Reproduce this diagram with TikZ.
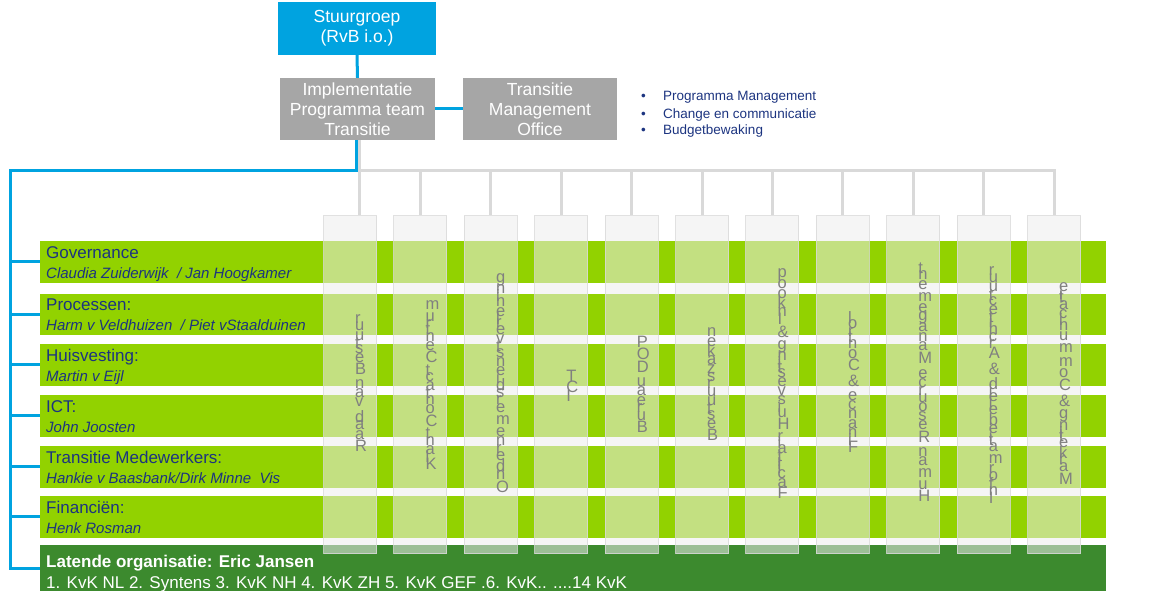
\documentclass[tikz,border=0pt]{standalone}
\usepackage{fontspec}
\setmainfont{Liberation Sans}
\usetikzlibrary{positioning,calc}

\definecolor{sgblue}{RGB}{0,163,224}
\definecolor{boxgrey}{RGB}{166,166,166}
\definecolor{lijngrey}{RGB}{217,217,217}
\definecolor{rijgroen}{RGB}{146,210,0}
\definecolor{latgroen}{RGB}{60,138,46}
\definecolor{navy}{RGB}{28,52,128}
\definecolor{stapelgrey}{RGB}{128,128,128}
\definecolor{colfill}{RGB}{236,236,236}

% one letter, upright, in a slot as tall as the letter is wide
\newcommand\pilechar[1]{%
  \setbox0=\hbox{\fontsize{17}{17}\selectfont #1}%
  \vbox to \wd0{\vss\hbox{\fontsize{16.5}{16.5}\selectfont #1}\vss}}
% letters piled up from the bottom
\ExplSyntaxOn
\tl_new:N \l_pile_tl
\str_new:N \l_pile_str
\NewDocumentCommand\pile{m}
  {
    \tl_clear:N \l_pile_tl
    \str_set:Nx \l_pile_str {#1}
    \str_map_inline:Nn \l_pile_str
      {
        \tl_if_blank:nTF {##1}
          { \tl_put_left:Nn \l_pile_tl { \vbox to 4.7pt {} } }
          { \tl_put_left:Nn \l_pile_tl { \pilechar{##1} } }
      }
    \vbox{ \offinterlineskip \l_pile_tl }
  }
\ExplSyntaxOff

\tikzset{
  sgbox/.style={fill=sgblue,text=white,inner sep=0pt,minimum width=158pt,
    minimum height=53pt,align=center,font=\fontsize{17.5}{20}\selectfont},
  greybox/.style={fill=boxgrey,text=white,inner sep=0pt,minimum width=155pt,
    minimum height=62pt,align=center,font=\fontsize{17.5}{20}\selectfont},
  rowbar/.style={anchor=north west,inner sep=0pt,minimum width=1066pt,minimum height=41.5pt},
  rowtitle/.style={anchor=base west,inner sep=0pt,font=\fontsize{17}{20}\selectfont},
  rowname/.style={anchor=base west,inner sep=0pt,font=\fontsize{15}{18}\selectfont\itshape},
  colbox/.style={anchor=north west,inner sep=0pt,minimum width=53pt,minimum height=338pt,
    fill=colfill,fill opacity=0.55,draw=lijngrey,draw opacity=0.8,line width=1pt},
  coltext/.style={anchor=west,inner sep=0pt,text=stapelgrey},
  taskitem/.style={anchor=base west,inner sep=0pt,text=navy,font=\fontsize{13.5}{17}\selectfont},
  blueline/.style={draw=sgblue,line width=3pt},
  greyline/.style={draw=lijngrey,line width=3pt}
}

\begin{document}
\begin{tikzpicture}[x=1pt,y=-1pt]
\useasboundingbox (0,0) rectangle (1161,591);

% top of the tree
\node[sgbox] (sg) at (357,28.5) {Stuurgroep\\(RvB i.o.)};
\node[greybox] (ipt) at (357.5,109) {Implementatie\\Programma team\\Transitie};
\node[greybox,minimum width=154pt] (tmo) at (540,109) {Transitie\\Management\\Office};
\foreach \k/\item in {0/Programma Management,1/Change en communicatie,2/Budgetbewaking}
  \node[taskitem] (task\k) at (641,101+17*\k) {\makebox[22pt][l]{\textbullet}\item};

% work streams
\foreach \top/\n/\ttl/\who in {241/gov/Governance/{Claudia Zuiderwijk\ \ / Jan Hoogkamer},
    293.5/proc/Processen:/{Harm v Veldhuizen\ \ / Piet vStaalduinen},
    344/huis/Huisvesting:/{Martin v Eijl},
    395/ict/ICT:/{John Joosten},
    446/mdw/Transitie Medewerkers:/{Hankie v Baasbank/Dirk Minne\ \ Vis},
    496/fin/Financiën:/{Henk Rosman}}{
  \node[rowbar,fill=rijgroen] (\n) at (40,\top) {};
  \node[rowtitle,text=navy] (\n-t) at (46,\top+17) {\ttl};
  \node[rowname,text=navy] (\n-w) at (46,\top+37) {\who};
}
\node[rowbar,fill=latgroen,minimum height=46pt] (lat) at (40,545) {};
\node[rowtitle,text=white,font=\fontsize{17}{20}\selectfont\bfseries] (lat-t) at (46,567)
  {Latende organisatie: Eric Jansen};
\node[rowtitle,text=white] (lat-w) at (46,588)
  {1. KvK NL 2. Syntens 3. KvK NH 4. KvK ZH 5. KvK GEF .6. KvK.. ....14 KvK};

% departments
\foreach \i/\txt in {1/Raad van Bestuur,2/Klant Contact Centrum,3/Ondernemersdienstverlening,
    4/ICT,5/Bureau DOP,6/Bestuurszaken,7/Facilitair Huisvesting & Inkoop,8/Finance & Control,
    9/Human Resource Management,10/Informatiebeleid & Architectuur,11/Marketing & Communicatie}{
  \pgfmathsetmacro\cx{323+70.4*(\i-1)}
  \node[colbox] (c\i) at (\cx,215) {};
  \node[coltext] (t\i) at (\cx+32,384) {\pile{\txt}};
}

% grey lines to the departments
\coordinate (ipt-b) at ([xshift=1.5pt]ipt.south);
\path (ipt-b) ++(0,30) coordinate (bus);
\draw[greyline] (ipt-b) -- (ipt-b |- c1.north);
\draw[greyline] (bus) -| (c11.north);
\foreach \i in {2,...,10}
  \draw[greyline] (bus -| c\i.north) -- (c\i.north);

% blue lines
\draw[blueline] (sg.south) -- (ipt.north);
\draw[blueline] (ipt.east) -- (tmo.west);
\coordinate (spine) at (10,170);
\draw[blueline] ([xshift=-1.5pt]ipt.south) |- (spine) |- (lat.west);
\foreach \n in {gov,proc,huis,ict,mdw,fin}
  \draw[blueline] (spine |- \n.west) -- (\n.west);
\end{tikzpicture}
\end{document}
